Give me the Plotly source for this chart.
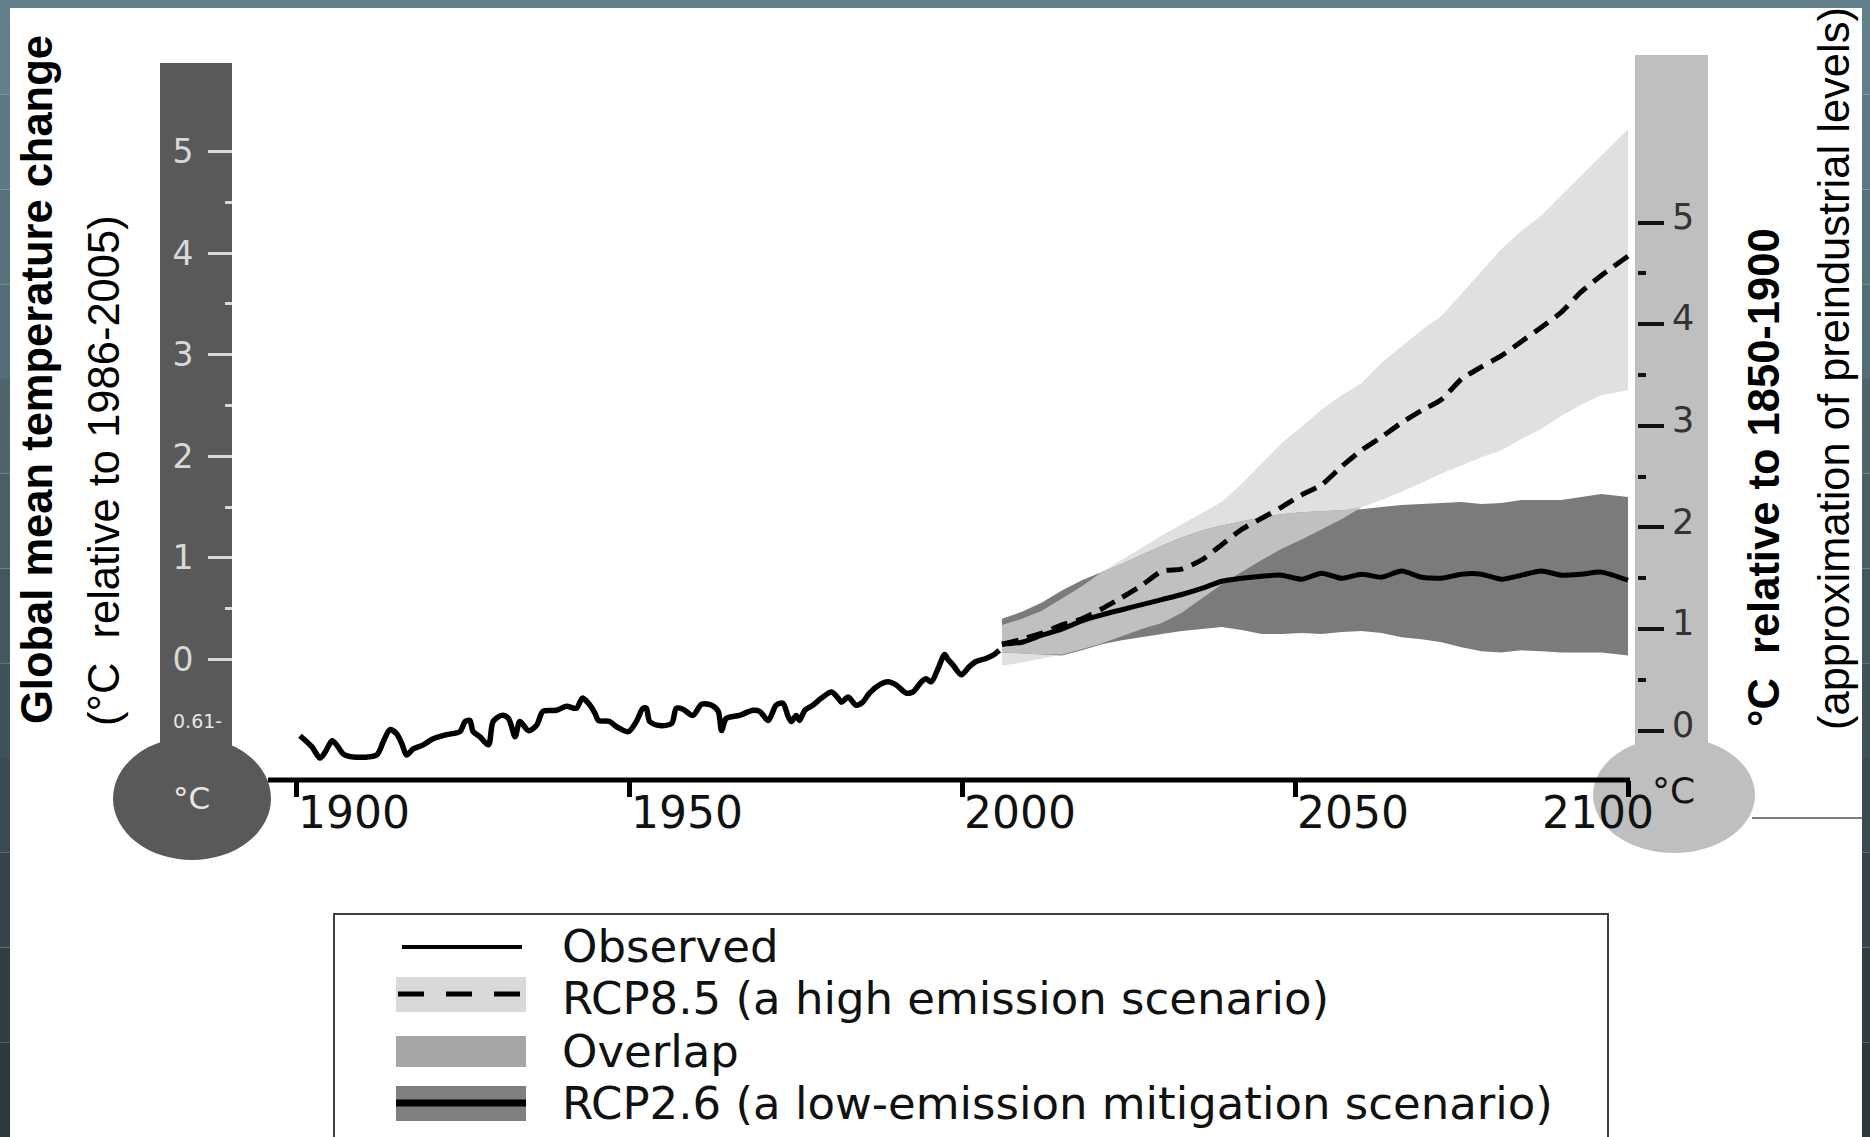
import plotly.graph_objects as go
import numpy as np

# ---------------- data (°C relative to 1986-2005) ----------------
obs_year = [1900.6, 1902.4, 1903.6, 1904.4, 1905.4, 1906.1, 1907.1, 1908.6, 1912.1, 1913.1,
            1914.1, 1915.1, 1915.9, 1916.6, 1917.6, 1919.1, 1920.6, 1922.6, 1924.6, 1925.4,
            1926.1, 1926.6, 1927.6, 1928.9, 1929.6, 1930.9, 1931.9, 1932.9, 1933.6, 1934.9,
            1936.1, 1937.1, 1939.1, 1940.6, 1942.1, 1943.0, 1943.9, 1944.9, 1945.4, 1947.1,
            1948.1, 1949.9, 1951.1, 1952.1, 1952.6, 1953.1, 1954.6, 1956.4, 1957.1, 1958.1,
            1959.6, 1960.9, 1962.4, 1963.4, 1963.9, 1964.6, 1966.6, 1968.6, 1969.6, 1970.9,
            1972.1, 1973.1, 1973.9, 1974.4, 1975.1, 1975.6, 1976.4, 1977.6, 1978.9, 1980.4,
            1981.4, 1981.9, 1982.9, 1984.1, 1985.1, 1986.1, 1987.6, 1988.9, 1990.1, 1991.6,
            1992.6, 1993.9, 1994.6, 1995.4, 1996.4, 1997.4, 1997.9, 1998.6, 1999.9, 2001.1,
            2002.1, 2003.6, 2004.6, 2005.6]
obs_temp = [-0.75, -0.86, -0.97, -0.91, -0.80, -0.84, -0.93, -0.96, -0.94, -0.81,
            -0.69, -0.73, -0.83, -0.94, -0.88, -0.84, -0.78, -0.74, -0.71, -0.61,
            -0.60, -0.71, -0.76, -0.84, -0.61, -0.55, -0.58, -0.76, -0.61, -0.70,
            -0.65, -0.51, -0.50, -0.46, -0.48, -0.38, -0.43, -0.53, -0.60, -0.61,
            -0.66, -0.71, -0.61, -0.48, -0.48, -0.61, -0.65, -0.63, -0.48, -0.49,
            -0.55, -0.44, -0.45, -0.51, -0.70, -0.58, -0.55, -0.50, -0.51, -0.60,
            -0.45, -0.43, -0.56, -0.61, -0.55, -0.60, -0.50, -0.45, -0.38, -0.32,
            -0.38, -0.42, -0.37, -0.45, -0.42, -0.33, -0.25, -0.22, -0.25, -0.33,
            -0.32, -0.22, -0.19, -0.22, -0.09, 0.05, 0.00, -0.05, -0.15, -0.07,
            -0.02, 0.01, 0.04, 0.09]

proj_year = [2006, 2009, 2012, 2015, 2018, 2021, 2024, 2027, 2030, 2033, 2036, 2039, 2042,
             2045, 2048, 2051, 2054, 2057, 2060, 2063, 2066, 2069, 2072, 2075, 2078, 2081,
             2084, 2087, 2090, 2093, 2096, 2100]
rcp85_mean = [0.15, 0.20, 0.26, 0.34, 0.40, 0.50, 0.61, 0.73, 0.87, 0.89, 0.98, 1.13, 1.28,
              1.39, 1.50, 1.62, 1.72, 1.90, 2.06, 2.19, 2.33, 2.45, 2.56, 2.76, 2.88, 2.99,
              3.13, 3.27, 3.42, 3.62, 3.78, 3.97]
rcp85_upper = [0.34, 0.40, 0.48, 0.60, 0.72, 0.86, 0.98, 1.10, 1.22, 1.33, 1.44, 1.55, 1.73,
               1.93, 2.13, 2.29, 2.46, 2.60, 2.72, 2.92, 3.08, 3.24, 3.38, 3.60, 3.83, 4.04,
               4.22, 4.37, 4.57, 4.77, 4.96, 5.22]
rcp85_lower = [-0.06, -0.03, 0.01, 0.05, 0.10, 0.16, 0.23, 0.30, 0.36, 0.46, 0.60, 0.74, 0.86,
               0.98, 1.09, 1.18, 1.28, 1.38, 1.50, 1.57, 1.65, 1.74, 1.83, 1.91, 1.99, 2.06,
               2.17, 2.27, 2.40, 2.51, 2.60, 2.65]
rcp26_mean = [0.15, 0.17, 0.24, 0.30, 0.38, 0.44, 0.49, 0.54, 0.59, 0.64, 0.70, 0.77, 0.80,
              0.82, 0.83, 0.79, 0.85, 0.80, 0.84, 0.81, 0.87, 0.81, 0.80, 0.84, 0.84, 0.79,
              0.83, 0.87, 0.83, 0.84, 0.86, 0.78]
rcp26_upper = [0.40, 0.47, 0.56, 0.68, 0.78, 0.86, 0.94, 1.03, 1.12, 1.20, 1.27, 1.32, 1.36,
               1.40, 1.43, 1.45, 1.46, 1.47, 1.48, 1.50, 1.52, 1.53, 1.54, 1.55, 1.53, 1.54,
               1.57, 1.57, 1.57, 1.60, 1.63, 1.60]
rcp26_lower = [0.07, 0.06, 0.05, 0.04, 0.09, 0.15, 0.19, 0.22, 0.25, 0.28, 0.30, 0.32, 0.29,
               0.25, 0.25, 0.26, 0.25, 0.27, 0.28, 0.26, 0.22, 0.20, 0.17, 0.12, 0.08, 0.07,
               0.09, 0.08, 0.07, 0.07, 0.07, 0.04]

x_tick_years = [1900, 1950, 2000, 2050, 2100]
left_ticks = [0, 1, 2, 3, 4, 5]
left_minor = [0.5, 1.5, 2.5, 3.5, 4.5]
right_ticks = [0, 1, 2, 3, 4, 5]
right_minor = [0.5, 1.5, 2.5, 3.5, 4.5]
preindustrial_offset = 0.70   # right scale = left scale + offset (as drawn)
baseline_mark = -0.61

# ---------------- geometry (pixels of the 1870x1137 page) ----------------
W, H = 1870, 1137
X0_PX, PX_PER_YEAR = 296.0, 6.66
Y0_PX, PX_PER_DEG = 659.5, 101.6
x_range = [1900 - X0_PX / PX_PER_YEAR, 1900 + (W - X0_PX) / PX_PER_YEAR]
y_range = [(Y0_PX - H) / PX_PER_DEG, Y0_PX / PX_PER_DEG]


def px(x):
    return x / W


def py(y):
    return 1 - y / H


LIGHT = "#e0e0e0"
MID = "#c0c0c0"
DARK = "#7b7b7b"
TITLE_FONT = "Liberation Sans, Arial, sans-serif"
LABEL_FONT = "DejaVu Sans, Verdana, sans-serif"

fig = go.Figure()

py_years = np.array(proj_year, dtype=float)
u85, l85 = np.array(rcp85_upper), np.array(rcp85_lower)
u26, l26 = np.array(rcp26_upper), np.array(rcp26_lower)
ov_lo = np.maximum(l85, l26)
ov_hi = np.maximum(np.minimum(u85, u26), ov_lo)


def band(upper, lower, color, name):
    fig.add_trace(go.Scatter(
        x=list(py_years) + list(py_years[::-1]),
        y=list(upper) + list(lower[::-1]),
        fill="toself", fillcolor=color, line=dict(width=0),
        mode="lines", name=name, showlegend=False, hoverinfo="skip"))


band(u85, l85, LIGHT, "RCP8.5 range")
band(u26, l26, DARK, "RCP2.6 range")
band(ov_hi, ov_lo, MID, "Overlap")

fig.add_trace(go.Scatter(x=proj_year, y=rcp26_mean, mode="lines", name="RCP2.6",
                         line=dict(color="black", width=5, shape="spline", smoothing=0.6),
                         showlegend=False))
fig.add_trace(go.Scatter(x=proj_year, y=rcp85_mean, mode="lines", name="RCP8.5",
                         line=dict(color="black", width=5, dash="17px,9px", shape="spline",
                                   smoothing=0.6), showlegend=False))
fig.add_trace(go.Scatter(x=obs_year, y=obs_temp, mode="lines", name="Observed",
                         line=dict(color="black", width=5.5, shape="spline", smoothing=0.8),
                         showlegend=False))

shapes = []
# white panel and slate frame strips
shapes.append(dict(type="rect", xref="paper", yref="paper", x0=0, x1=1, y0=0, y1=1,
                   fillcolor="white", line=dict(width=0), layer="below"))
n = 12
for i in range(n):
    t = i / (n - 1)
    r = int(0x62 + (0x2c - 0x62) * t)
    g = int(0x80 + (0x38 - 0x80) * t)
    b = int(0x8a + (0x3d - 0x8a) * t)
    col = f"rgb({r},{g},{b})"
    ya, yb = H * i / n, H * (i + 1) / n
    shapes.append(dict(type="rect", xref="paper", yref="paper", x0=px(0), x1=px(10),
                       y0=py(yb), y1=py(ya), fillcolor=col, line=dict(width=0), layer="below"))
    shapes.append(dict(type="rect", xref="paper", yref="paper", x0=px(1862), x1=px(W),
                       y0=py(yb), y1=py(ya), fillcolor=col, line=dict(width=0), layer="below"))
shapes.append(dict(type="rect", xref="paper", yref="paper", x0=0, x1=1, y0=py(8), y1=1,
                   fillcolor="#62808a", line=dict(width=0), layer="below"))

# left thermometer (dark)
shapes.append(dict(type="rect", xref="paper", yref="paper", x0=px(160), x1=px(232),
                   y0=py(790), y1=py(63), fillcolor="#595959", line=dict(width=0), layer="below"))
shapes.append(dict(type="circle", xref="paper", yref="paper", x0=px(113), x1=px(271),
                   y0=py(860), y1=py(737), fillcolor="#595959", line=dict(width=0), layer="below"))
# right thermometer (light)
shapes.append(dict(type="rect", xref="paper", yref="paper", x0=px(1635), x1=px(1708),
                   y0=py(790), y1=py(55), fillcolor="#bfbfbf", line=dict(width=0), layer="below"))
shapes.append(dict(type="circle", xref="paper", yref="paper", x0=px(1593), x1=px(1755),
                   y0=py(853), y1=py(737), fillcolor="#bfbfbf", line=dict(width=0), layer="below"))
# x axis line
axis_y_val = (Y0_PX - 780) / PX_PER_DEG
shapes.append(dict(type="line", xref="x", yref="y", x0=1900 - (296 - 268) / PX_PER_YEAR,
                   x1=2100.3, y0=axis_y_val, y1=axis_y_val, line=dict(color="black", width=5),
                   layer="above"))
# small connector line at right
shapes.append(dict(type="line", xref="paper", yref="paper", x0=px(1752), x1=px(1862),
                   y0=py(818), y1=py(818), line=dict(color="#555555", width=1.5), layer="below"))

# legend box
shapes.append(dict(type="rect", xref="paper", yref="paper", x0=px(334), x1=px(1608),
                   y0=py(1145), y1=py(914), fillcolor="white",
                   line=dict(color="#404040", width=2), layer="above"))
shapes.append(dict(type="line", xref="paper", yref="paper", x0=px(402), x1=px(522),
                   y0=py(947), y1=py(947), line=dict(color="black", width=4), layer="above"))
shapes.append(dict(type="rect", xref="paper", yref="paper", x0=px(396), x1=px(526),
                   y0=py(1012), y1=py(977), fillcolor="#d9d9d9", line=dict(width=0), layer="above"))
shapes.append(dict(type="line", xref="paper", yref="paper", x0=px(398), x1=px(526),
                   y0=py(994), y1=py(994), line=dict(color="black", width=5, dash="26px,22px"),
                   layer="above"))
shapes.append(dict(type="rect", xref="paper", yref="paper", x0=px(396), x1=px(526),
                   y0=py(1067), y1=py(1036), fillcolor="#a6a6a6", line=dict(width=0), layer="above"))
shapes.append(dict(type="rect", xref="paper", yref="paper", x0=px(396), x1=px(526),
                   y0=py(1121), y1=py(1086), fillcolor="#7f7f7f", line=dict(width=0), layer="above"))
shapes.append(dict(type="line", xref="paper", yref="paper", x0=px(396), x1=px(526),
                   y0=py(1103), y1=py(1103), line=dict(color="black", width=7), layer="above"))

annotations = []
legend_items = [("Observed", 946), ("RCP8.5 (a high emission scenario)", 998),
                ("Overlap", 1051), ("RCP2.6 (a low-emission mitigation scenario)", 1103)]
for txt, yy in legend_items:
    annotations.append(dict(text=txt, xref="paper", yref="paper", x=px(560), y=py(yy),
                            xanchor="left", yanchor="middle", showarrow=False,
                            font=dict(family=LABEL_FONT, size=45, color="#111111")))

# x tick labels
for yr in x_tick_years:
    if yr == 2100:
        annotations.append(dict(text=str(yr), xref="x", yref="paper", x=yr, y=py(812),
                                xanchor="right", yanchor="middle", xshift=28, showarrow=False,
                                font=dict(family=LABEL_FONT, size=44, color="#111111")))
    else:
        annotations.append(dict(text=str(yr), xref="x", yref="paper", x=yr, y=py(812),
                                xanchor="left", yanchor="middle", xshift=0, showarrow=False,
                                font=dict(family=LABEL_FONT, size=44, color="#111111")))

# bulb labels
annotations.append(dict(text="°C", xref="paper", yref="paper", x=px(191), y=py(798),
                        xanchor="center", yanchor="middle", showarrow=False,
                        font=dict(family="DejaVu Sans", size=31, color="#e6e6e6")))
annotations.append(dict(text="°C", xref="paper", yref="paper", x=px(1673), y=py(790),
                        xanchor="center", yanchor="middle", showarrow=False,
                        font=dict(family=LABEL_FONT, size=36, color="#111111")))
# baseline mark on left scale
annotations.append(dict(text="0.61-", xref="paper", yref="y", x=px(224), y=baseline_mark,
                        xanchor="right", yanchor="middle", showarrow=False,
                        font=dict(family="DejaVu Sans", size=19, color="#e6e6e6")))

# axis titles
title_common = dict(xref="paper", yref="paper", textangle=-90, showarrow=False,
                    xanchor="center", yanchor="middle")
annotations.append(dict(text="<b>Global mean temperature change</b>", x=px(37), y=py(380),
                        font=dict(family=TITLE_FONT, size=43.5, color="black"), **title_common))
annotations.append(dict(text="(°C\u00a0 relative to 1986-2005)", x=px(104), y=py(471),
                        font=dict(family=TITLE_FONT, size=43.5, color="black"), **title_common))
annotations.append(dict(text="<b>°C\u00a0 relative to 1850-1900</b>", x=px(1764), y=py(478),
                        font=dict(family=TITLE_FONT, size=43.5, color="black"), **title_common))
annotations.append(dict(text="(approximation of preindustrial levels)", x=px(1834), y=py(369),
                        font=dict(family=TITLE_FONT, size=43.5, color="black"), **title_common))

fig.update_layout(
    width=W, height=H, margin=dict(l=0, r=0, t=0, b=0),
    paper_bgcolor="#4c636b", plot_bgcolor="rgba(0,0,0,0)",
    showlegend=False,
    xaxis=dict(range=x_range, domain=[0, 1], anchor="free", position=py(780),
               tickvals=x_tick_years, ticks="outside", ticklen=16, tickwidth=5,
               tickcolor="black", showticklabels=False, showgrid=False, zeroline=False,
               showline=False, fixedrange=True),
    yaxis=dict(range=y_range, domain=[0, 1], anchor="free", position=px(232), side="left",
               tickvals=left_ticks, ticks="outside", ticklen=24, tickwidth=3,
               tickcolor="#d9d9d9", ticklabelstandoff=8,
               tickfont=dict(family="DejaVu Sans", size=33, color="#d9d9d9"),
               minor=dict(tickvals=left_minor, ticks="outside", ticklen=7, tickwidth=3,
                          tickcolor="#d9d9d9"),
               showgrid=False, zeroline=False, showline=False, fixedrange=True),
    yaxis2=dict(range=[y_range[0] + preindustrial_offset, y_range[1] + preindustrial_offset],
                overlaying="y", anchor="free", position=px(1637), side="right",
                tickvals=right_ticks, ticks="outside", ticklen=26, tickwidth=4,
                tickcolor="#111111", ticklabelstandoff=1, ticklabelshift=-6,
                tickfont=dict(family="DejaVu Sans", size=35, color="#333333"),
                minor=dict(tickvals=right_minor, ticks="outside", ticklen=8, tickwidth=4,
                           tickcolor="#111111"),
                showgrid=False, zeroline=False, showline=False, fixedrange=True),
    shapes=shapes, annotations=annotations,
)
# invisible trace so the right axis is drawn
fig.add_trace(go.Scatter(x=[2100], y=[0], yaxis="y2", mode="markers",
                         marker=dict(opacity=0), showlegend=False, hoverinfo="skip"))

fig.write_html("out.html", config={"displayModeBar": False},
               post_script="document.body.style.margin='0';document.body.style.overflow='hidden';")
